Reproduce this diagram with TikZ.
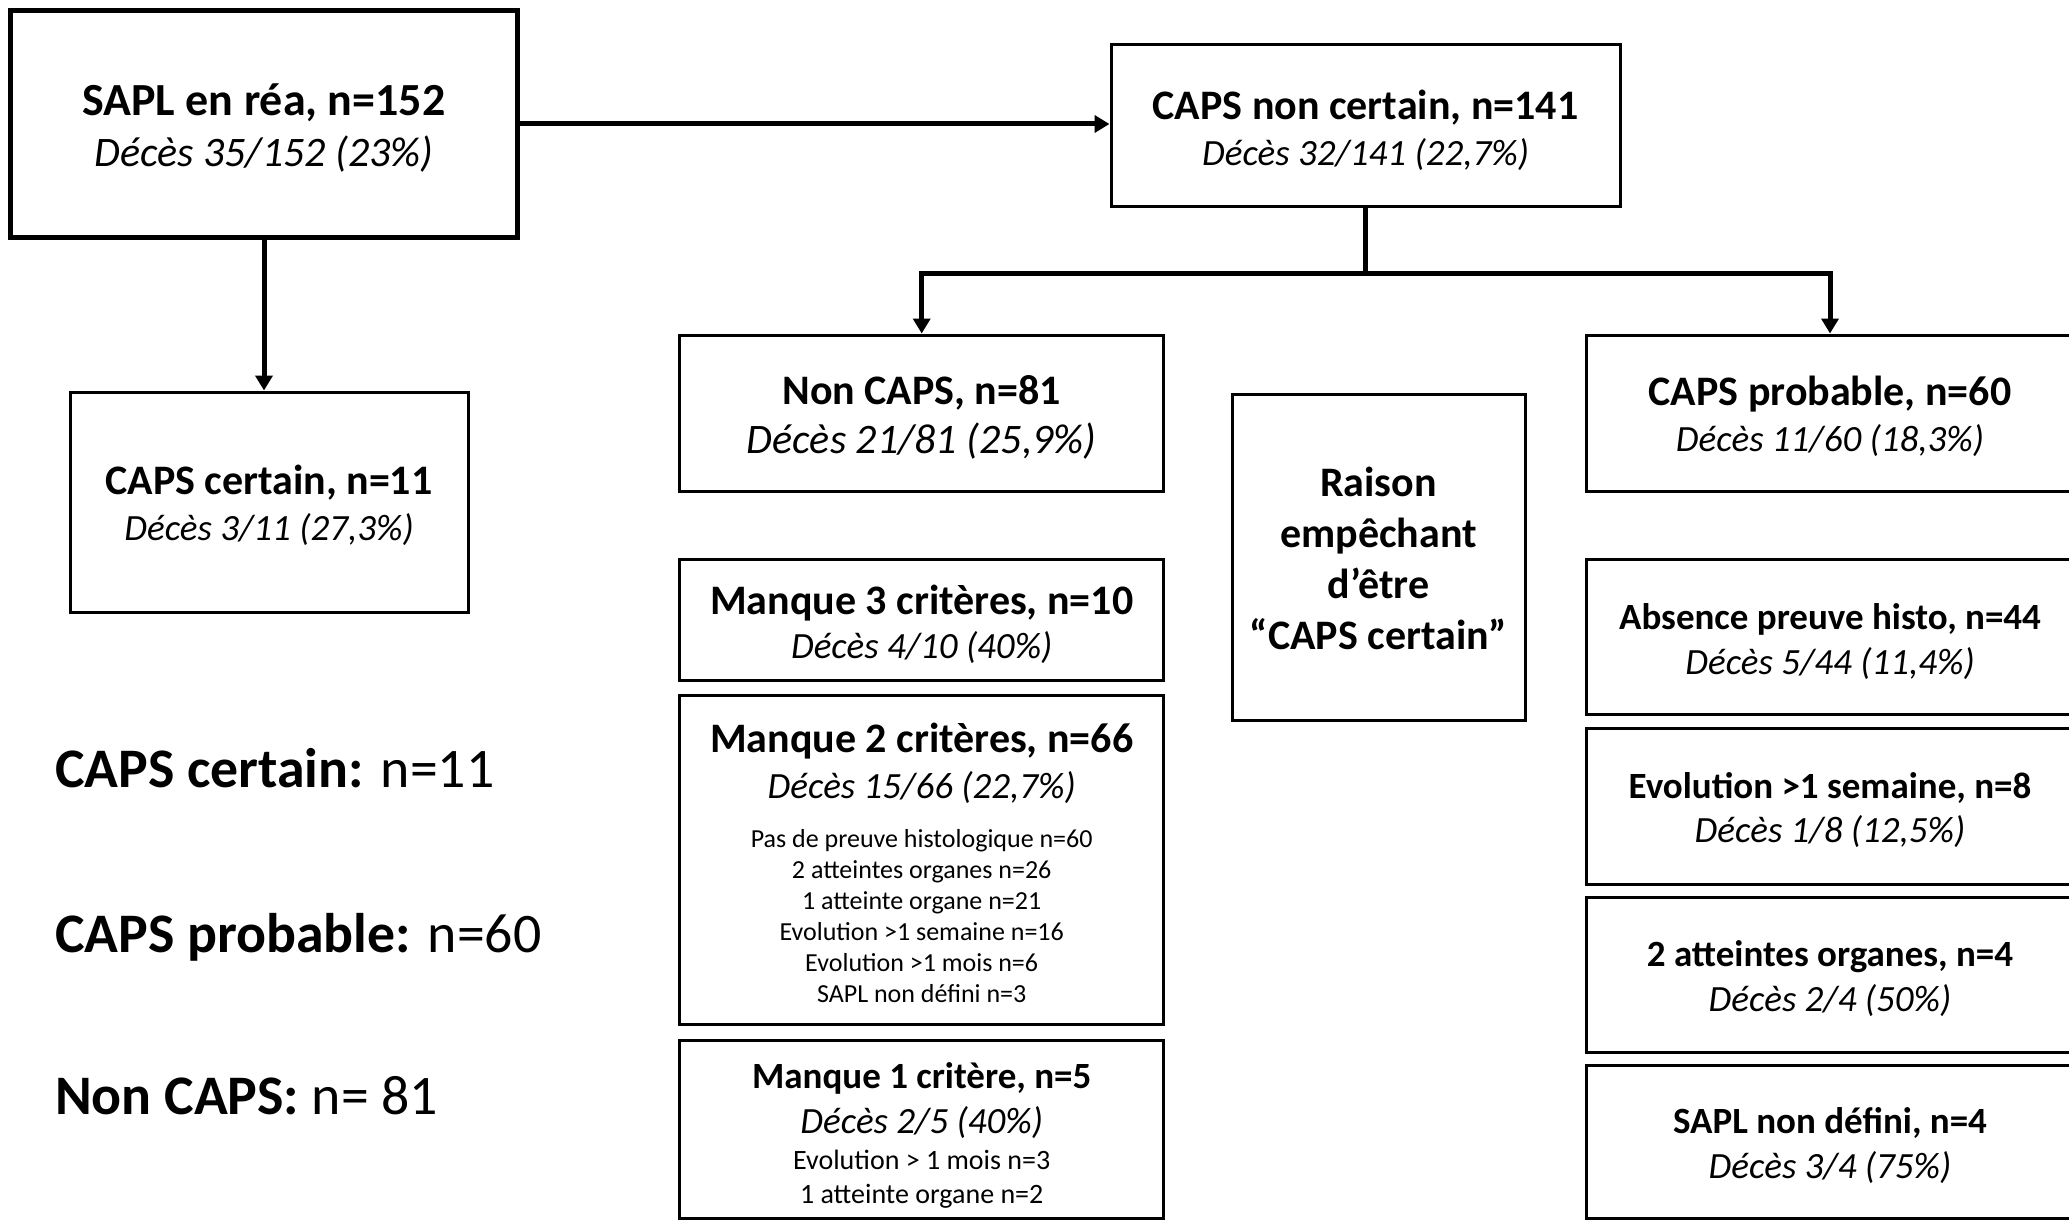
\documentclass[tikz,border=0pt]{standalone}
\usepackage{fontspec}
\setmainfont{Carlito}
\usetikzlibrary{arrows.meta}
\setlength{\lineskiplimit}{-1000pt}
\newcommand{\fs}[2]{\fontsize{#1}{#2}\selectfont}
\newcommand{\Tstr}[1]{\rule{0pt}{#1pt}}
\newcommand{\Bstr}{\rule[-12pt]{0pt}{12pt}}
\tikzset{
  box/.style={draw, line width=3pt, inner sep=0pt, align=center},
  arr/.style={line width=5pt, -{Triangle[length=15pt,width=17pt]}},
  conn/.style={line width=5pt},
  legend/.style={anchor=base west, inner sep=0pt, font=\fs{55.8}{67}}
}
\begin{document}
\begin{tikzpicture}[x=1pt,y=-1pt]
\fill[white] (0,0) rectangle (2069,1220);
\useasboundingbox (0,0) rectangle (2069,1220);

% top row
\node[box, line width=5.5pt, minimum width=506.6pt, minimum height=227pt, font=\fs{42}{51.5}] (sapl) at (264,124)
  {{\Tstr{46.5}\fs{46}{51.5}\bfseries SAPL en réa, n=152}\\{\itshape Décès 35/152 (23\%)\Bstr}};
\node[box, minimum width=509pt, minimum height=161pt, font=\fs{42}{45.8}] (cnc) at (1365.5,125.5)
  {{\Tstr{45.8}\bfseries CAPS non certain, n=141}\\{\itshape\fs{37}{45.8}Décès 32/141 (22,7\%)\Bstr}};

% left
\node[box, minimum width=398pt, minimum height=220pt, font=\fs{42}{45.8}] (cc) at (269,502)
  {{\Tstr{42.2}\bfseries CAPS certain, n=11}\\{\itshape\fs{37}{45.8}Décès 3/11 (27,3\%)\Bstr}};

% middle column
\node[box, minimum width=484pt, minimum height=156pt, font=\fs{42}{48.8}] (nc) at (921.7,413)
  {{\Tstr{43.8}\bfseries Non CAPS, n=81}\\{\itshape Décès 21/81 (25,9\%)\Bstr}};
\node[box, minimum width=484pt, minimum height=121.5pt, font=\fs{42}{44.5}] (m3) at (921.7,620)
  {{\Tstr{45.1}\bfseries Manque 3 critères, n=10}\\{\itshape\fs{37}{44.5}Décès 4/10 (40\%)\Bstr}};
\node[box, minimum width=484pt, minimum height=329pt, font=\fs{42}{45.8}] (m2) at (921.7,859.5)
  {{\Tstr{48}\bfseries Manque 2 critères, n=66}\\{\itshape\fs{37}{45.8}Décès 15/66 (22,7\%)}\\[3.4pt]
   {\fs{26}{31}Pas de preuve histologique n=60}\\[-14.9pt]
   {\fs{26}{31}2 atteintes organes n=26}\\[-14.9pt]
   {\fs{26}{31}1 atteinte organe n=21}\\[-14.9pt]
   {\fs{26}{31}Evolution >1 semaine n=16}\\[-14.9pt]
   {\fs{26}{31}Evolution >1 mois n=6}\\[-14.9pt]
   {\fs{26}{31}SAPL non défini n=3\Bstr}};
\node[box, minimum width=484pt, minimum height=178pt, font=\fs{37}{44.9}] (m1) at (921.7,1129)
  {{\Tstr{46.2}\bfseries Manque 1 critère, n=5}\\{\itshape Décès 2/5 (40\%)}\\[-9.7pt]
   {\fs{28}{34}Evolution > 1 mois n=3}\\[-10.6pt]
   {\fs{28}{34}1 atteinte organe n=2\Bstr}};

% reason box
\node[box, minimum width=293pt, minimum height=326pt, font=\fs{42}{51}\bfseries] (ra) at (1378.5,557.5)
  {\Tstr{43.6}Raison\\empêchant\\d’être\\“CAPS certain”\Bstr};

% right column
\node[box, minimum width=488pt, minimum height=156pt, font=\fs{42}{45.8}] (cp) at (1830,413)
  {{\Tstr{43.4}\bfseries CAPS probable, n=60}\\{\itshape\fs{37}{45.8}Décès 11/60 (18,3\%)\Bstr}};
\node[box, minimum width=488pt, minimum height=155.5pt, font=\fs{37}{44.9}] (ab) at (1830,637)
  {{\Tstr{42.3}\bfseries Absence preuve histo, n=44}\\{\itshape Décès 5/44 (11,4\%)\Bstr}};
\node[box, minimum width=488pt, minimum height=156pt, font=\fs{37}{43.6}] (ev) at (1830,806)
  {{\Tstr{40.8}\bfseries Evolution >1 semaine, n=8}\\{\itshape Décès 1/8 (12,5\%)\Bstr}};
\node[box, minimum width=488pt, minimum height=155pt, font=\fs{37}{44.9}] (at) at (1830,974.5)
  {{\Tstr{40.3}\bfseries 2 atteintes organes, n=4}\\{\itshape Décès 2/4 (50\%)\Bstr}};
\node[box, minimum width=488pt, minimum height=153pt, font=\fs{37}{44.8}] (sn) at (1830,1141.5)
  {{\Tstr{41.4}\bfseries SAPL non défini, n=4}\\{\itshape Décès 3/4 (75\%)\Bstr}};

% legend
\node[legend] (l1) at (55,787.3) {\textbf{CAPS certain:} n=11};
\node[legend] (l2) at (55,952.3) {\textbf{CAPS probable:} n=60};
\node[legend] (l3) at (55,1114.3) {\textbf{Non CAPS:} n= 81};

% connectors
\draw[arr] (sapl.east) -- (sapl.east -| cnc.west);
\draw[arr] (sapl.south) -- (sapl.south |- cc.north);
\path (cnc.south) ++(0,66) coordinate (j);
\draw[conn] (cnc.south) -- (j);
\draw[arr] (j) -| (nc.north);
\draw[arr] (j) -| (cp.north);
\end{tikzpicture}
\end{document}
